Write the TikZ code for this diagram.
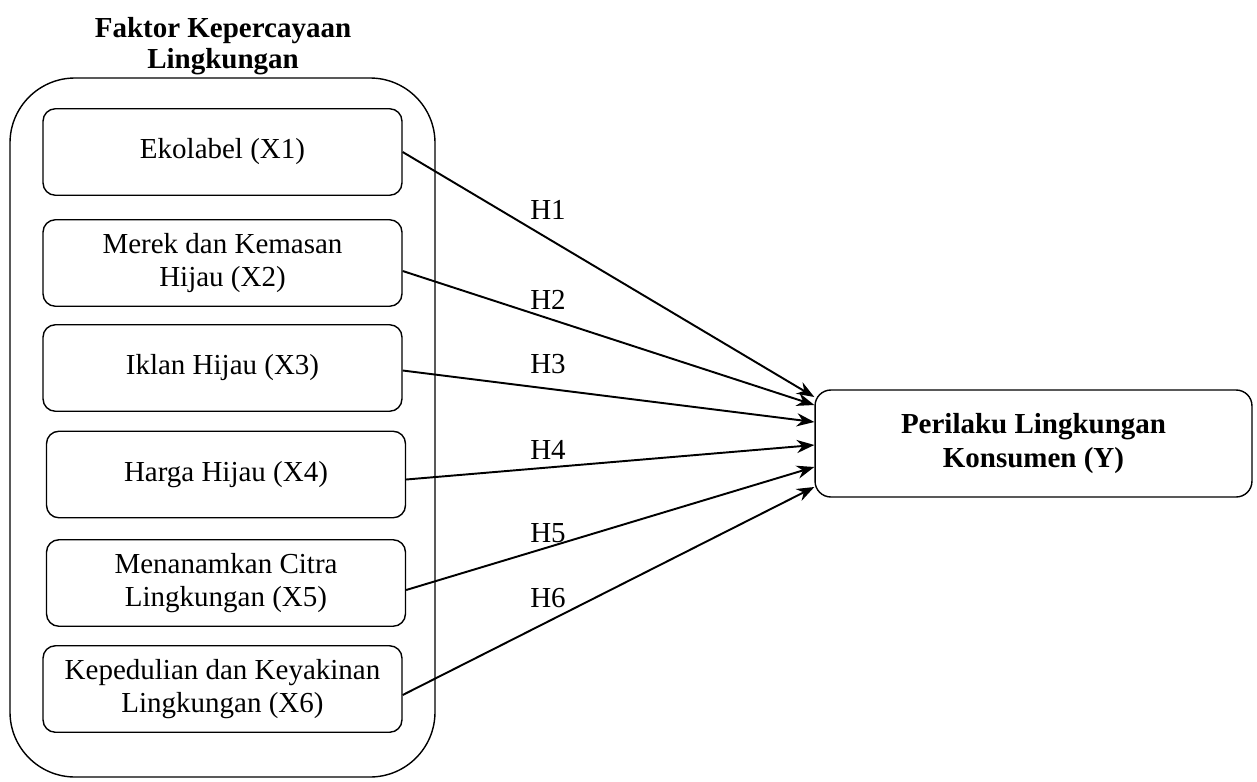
\documentclass[tikz,border=0pt]{standalone}
\usepackage{fontspec}
\setmainfont{Liberation Serif}
\usetikzlibrary{arrows.meta}

\begin{document}
\begin{tikzpicture}[x=0.02cm, y=-0.02cm,
                    line width=0.8pt,
                    font=\fontsize{16.5}{19}\selectfont]
    \tikzstyle{faktor}=[draw, rounded corners=7pt, align=center, minimum width=7.18cm, minimum height=1.73cm, inner sep=0pt]
    \tikzstyle{perilaku}=[faktor, rounded corners=9pt, font=\fontsize{16.5}{19}\selectfont\bfseries, minimum width=8.74cm, minimum height=2.14cm]
    \tikzstyle{panah}=[line width=1.1pt, -{Stealth[length=10pt, width=7.5pt]}]
    \tikzstyle{hlabel}=[inner sep=0pt]

    \useasboundingbox (0,0) rectangle (1257,781);

    % kelompok faktor
    \draw[rounded corners=1.3cm] (10,78) rectangle (435,777);
    \node[font=\fontsize{16.5}{18}\selectfont\bfseries, align=center] (judul) at (223,46) {Faktor Kepercayaan\\Lingkungan};

    \node[faktor] (x1) at (222.5,152) {Ekolabel (X1)};
    \node[faktor] (x2) at (222.5,263) {Merek dan Kemasan\\Hijau (X2)};
    \node[faktor] (x3) at (222.5,368) {Iklan Hijau (X3)};
    \node[faktor] (x4) at (226,474.5) {Harga Hijau (X4)};
    \node[faktor] (x5) at (226,583) {Menanamkan Citra\\Lingkungan (X5)};
    \node[faktor] (x6) at (222.5,689) {Kepedulian dan Keyakinan\\Lingkungan (X6)};

    \node[perilaku] (y) at (1033.5,443.5) {Perilaku Lingkungan\\Konsumen (Y)};

    % hipotesis
    \draw[panah] (x1.east) -- ([yshift=0.93cm]y.west);
    \draw[panah] ([yshift=-0.16cm]x2.east) -- ([yshift=0.77cm]y.west);
    \draw[panah] ([yshift=-0.05cm]x3.east) -- ([yshift=0.43cm]y.west);
    \draw[panah] ([yshift=-0.1cm]x4.east) -- ([yshift=-0.03cm]y.west);
    \draw[panah] ([yshift=-0.14cm]x5.east) -- ([yshift=-0.47cm]y.west);
    \draw[panah] ([yshift=-0.12cm]x6.east) -- ([yshift=-0.87cm]y.west);

    \node[hlabel] (h1) at (548,210) {H1};
    \node[hlabel] (h2) at (548,300) {H2};
    \node[hlabel] (h3) at (548,364) {H3};
    \node[hlabel] (h4) at (548,450) {H4};
    \node[hlabel] (h5) at (548,533) {H5};
    \node[hlabel] (h6) at (548,598) {H6};
\end{tikzpicture}
\end{document}
